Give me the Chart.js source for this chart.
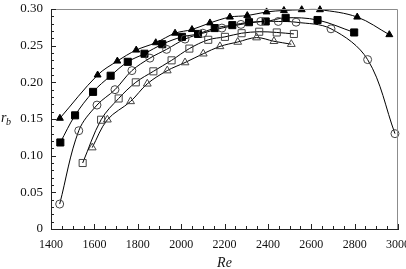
<!DOCTYPE html>
<html>
<head>
<meta charset="utf-8">
<script src="https://cdn.jsdelivr.net/npm/chart.js@4"></script>
<style>
  html, body { margin: 0; padding: 0; background: #fff; }
  #wrap { width: 406px; height: 269px; }
</style>
</head>
<body>
<div id="wrap"><canvas id="chart"></canvas></div>
<script>
  // values: Re on x, r_b on y
  const reTriFilled = [1441, 1615, 1706, 1793, 1883, 1972, 2050, 2133, 2225, 2305, 2394, 2474, 2556, 2640, 2812, 2960];
  const rbTriFilled = [0.151, 0.210, 0.229, 0.244, 0.254, 0.267, 0.272, 0.281, 0.289, 0.291, 0.296, 0.298, 0.299, 0.299, 0.289, 0.265];

  const reSqFilled = [1443, 1511, 1594, 1675, 1754, 1831, 1913, 2004, 2078, 2155, 2236, 2313, 2390, 2482, 2629, 2798];
  const rbSqFilled = [0.118, 0.155, 0.187, 0.209, 0.228, 0.239, 0.252, 0.262, 0.266, 0.274, 0.278, 0.282, 0.283, 0.288, 0.285, 0.268];

  const reCircle = [1440, 1528, 1612, 1695, 1773, 1856, 1933, 2018, 2100, 2188, 2276, 2367, 2448, 2530, 2691, 2860, 2986];
  const rbCircle = [0.034, 0.134, 0.169, 0.190, 0.216, 0.233, 0.245, 0.259, 0.267, 0.274, 0.279, 0.283, 0.283, 0.282, 0.273, 0.231, 0.130];

  const reSqOpen = [1546, 1631, 1712, 1791, 1872, 1956, 2038, 2125, 2202, 2279, 2360, 2441, 2520];
  const rbSqOpen = [0.090, 0.149, 0.178, 0.200, 0.215, 0.230, 0.246, 0.258, 0.262, 0.267, 0.269, 0.268, 0.266];

  const reTriOpen = [1590, 1660, 1767, 1844, 1936, 2018, 2102, 2179, 2261, 2348, 2428, 2508];
  const rbTriOpen = [0.111, 0.149, 0.174, 0.198, 0.216, 0.227, 0.239, 0.249, 0.255, 0.261, 0.256, 0.252];

  const xTicks = [1400, 1600, 1800, 2000, 2200, 2400, 2600, 2800, 3000];
  const yTicks = [0, 0.05, 0.10, 0.15, 0.20, 0.25, 0.30];

  const SERIF = '"Liberation Serif", "DejaVu Serif", serif';
  const pts = (xs, ys) => xs.map((x, i) => ({ x: x, y: ys[i] }));

  function series(xs, ys, style, filled, radius) {
    return {
      data: pts(xs, ys),
      showLine: true,
      borderColor: '#000',
      borderWidth: 1,
      tension: 0.35,
      pointStyle: style,
      pointRadius: radius,
      pointBorderWidth: 1,
      pointBackgroundColor: filled ? '#000' : 'rgba(0,0,0,0)',
      pointBorderColor: filled ? '#000' : '#444',
      clip: false
    };
  }

  /* inward ticks, frame and axis titles */
  const decor = {
    id: 'decor',
    afterDraw(chart) {
      const { ctx, chartArea: a, scales: { x, y } } = chart;
      ctx.save();
      ctx.lineWidth = 1;
      ctx.strokeStyle = '#8c8c8c';
      ctx.beginPath();
      ctx.moveTo(a.left, a.top + 0.5);
      ctx.lineTo(a.right - 0.5, a.top + 0.5);
      ctx.lineTo(a.right - 0.5, a.bottom);
      ctx.stroke();

      ctx.strokeStyle = '#222';
      ctx.beginPath();
      for (let v = 1400; v <= 3000; v += 50) {
        const px = Math.round(x.getPixelForValue(v)) + 0.5;
        const len = v % 200 === 0 ? 5 : 3;
        ctx.moveTo(px, a.bottom);
        ctx.lineTo(px, a.bottom - len);
      }
      for (let i = 0; i <= 30; i++) {
        const py = Math.round(y.getPixelForValue(i / 100)) + 0.5;
        const len = i % 5 === 0 ? 5 : 3;
        ctx.moveTo(a.left, py);
        ctx.lineTo(a.left + len, py);
      }
      ctx.stroke();

      ctx.fillStyle = '#111';
      ctx.textBaseline = 'alphabetic';
      ctx.textAlign = 'left';
      ctx.font = 'italic 14px ' + SERIF;
      ctx.fillText('r', 1, 122);
      ctx.font = 'italic 10px ' + SERIF;
      ctx.fillText('b', 6, 125);

      ctx.textAlign = 'center';
      ctx.font = 'italic 14px ' + SERIF;
      ctx.fillText('Re', (a.left + a.right) / 2, 267);
      ctx.restore();
    }
  };

  new Chart(document.getElementById('chart'), {
    type: 'line',
    data: {
      datasets: [
        series(reCircle, rbCircle, 'circle', false, 4),
        series(reSqOpen, rbSqOpen, 'rect', false, 5),
        series(reTriOpen, rbTriOpen, 'triangle', false, 4.5),
        series(reSqFilled, rbSqFilled, 'rect', true, 5),
        series(reTriFilled, rbTriFilled, 'triangle', true, 4)
      ]
    },
    options: {
      responsive: true,
      maintainAspectRatio: false,
      animation: false,
      layout: { padding: { top: 9, right: 8, left: 0, bottom: 0 } },
      plugins: { legend: { display: false }, tooltip: { enabled: false } },
      scales: {
        x: {
          type: 'linear',
          min: 1400,
          max: 3000,
          afterBuildTicks: (s) => { s.ticks = xTicks.map((v) => ({ value: v })); },
          afterFit: (s) => { s.height = 40; s.paddingLeft = 0; s.paddingRight = 0; },
          grid: { display: true, drawOnChartArea: false, drawTicks: false },
          border: { display: true, color: '#222', width: 1 },
          ticks: {
            padding: 9,
            maxRotation: 0,
            autoSkip: false,
            color: '#111',
            font: { family: SERIF, size: 12 },
            callback: (v) => String(v)
          }
        },
        y: {
          type: 'linear',
          min: 0,
          max: 0.30,
          afterBuildTicks: (s) => { s.ticks = yTicks.map((v) => ({ value: v })); },
          afterFit: (s) => { s.width = 51; s.paddingTop = 0; s.paddingBottom = 0; },
          grid: { display: true, drawOnChartArea: false, drawTicks: false },
          border: { display: true, color: '#222', width: 1 },
          ticks: {
            padding: 8,
            autoSkip: false,
            color: '#111',
            font: { family: SERIF, size: 13 },
            callback: (v) => (v === 0 ? '0' : v.toFixed(2))
          }
        }
      }
    },
    plugins: [decor]
  });
</script>
</body>
</html>
